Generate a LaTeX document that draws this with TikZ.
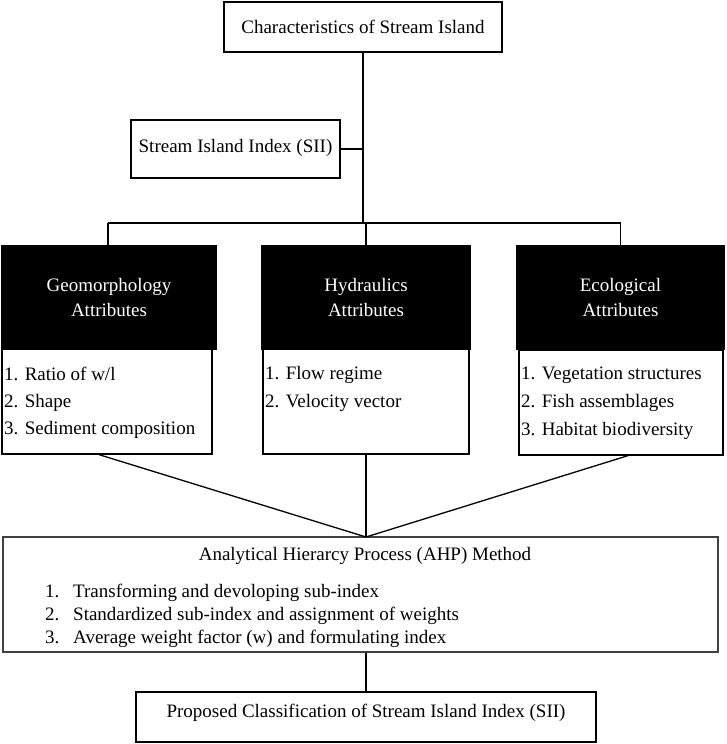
\documentclass[tikz,border=0pt]{standalone}
\usepackage{fontspec}
\setmainfont{Liberation Serif}
\begin{document}
\begin{tikzpicture}[x=1pt,y=-1pt,
  box/.style={draw=black,line width=1.3pt,rectangle,inner sep=0pt,fill=white},
  blackbox/.style={draw=black,line width=1.3pt,rectangle,inner sep=0pt,fill=black,text=white,align=center,font=\fontsize{19}{25.5}\selectfont},
  lbl/.style={inner sep=0pt,font=\fontsize{19}{25}\selectfont},
  conn/.style={line width=1.3pt},
  mainconn/.style={line width=2.3pt}]
\useasboundingbox (0,0) rectangle (726,744);
% boxes
\node[box,minimum width=278pt,minimum height=50pt] (top) at (363,27) {};
\node[lbl] (toptxt) at (363,27) {Characteristics of Stream Island};
\node[box,minimum width=209pt,minimum height=58pt] (sii) at (235.5,149) {};
\node[lbl] (siitxt) at (235.5,148) {Stream Island Index (SII)};

\node[blackbox,minimum width=214pt,minimum height=103pt] (geoT) at (109,297.5) {Geomorphology\\Attributes};
\node[box,minimum width=210pt,minimum height=105pt] (geoB) at (107,401.5) {};
\node[blackbox,minimum width=208pt,minimum height=103pt] (hydT) at (366,297.5) {Hydraulics\\Attributes};
\node[box,minimum width=206pt,minimum height=105pt] (hydB) at (366,401.5) {};
\node[blackbox,minimum width=207pt,minimum height=103pt] (ecoT) at (620.5,297.5) {Ecological\\Attributes};
\node[box,minimum width=204pt,minimum height=105pt] (ecoB) at (621,402.5) {};

\node[lbl,anchor=base west] (g1) at (4,380) {1. Ratio of w/l};
\node[lbl,anchor=base west] (g2) at (4,407) {2. Shape};
\node[lbl,anchor=base west] (g3) at (4,434) {3. Sediment composition};
\node[lbl,anchor=base west] (h1) at (265,379) {1. Flow regime};
\node[lbl,anchor=base west] (h2) at (265,407) {2. Velocity vector};
\node[lbl,anchor=base west] (e1) at (521,379) {1. Vegetation structures};
\node[lbl,anchor=base west] (e2) at (521,407) {2. Fish assemblages};
\node[lbl,anchor=base west] (e3) at (521,435) {3. Habitat biodiversity};

\node[box,draw=black!75,minimum width=715pt,minimum height=115pt] (ahp) at (360.5,594.5) {};
\node[lbl,anchor=base] (ahptxt) at (365,560) {Analytical Hierarcy Process (AHP) Method};
\node[lbl,anchor=base west] (n1) at (45,597) {1.};
\node[lbl,anchor=base west] (a1) at (73,597) {Transforming and devoloping sub-index};
\node[lbl,anchor=base west] (n2) at (45,620) {2.};
\node[lbl,anchor=base west] (a2) at (73,620) {Standardized sub-index and assignment of weights};
\node[lbl,anchor=base west] (n3) at (45,643) {3.};
\node[lbl,anchor=base west] (a3) at (73,643) {Average weight factor (w) and formulating index};

\node[box,minimum width=460pt,minimum height=50pt] (prop) at (366,717) {};
\node[lbl,anchor=base] (proptxt) at (366,717) {Proposed Classification of Stream Island Index (SII)};

% connectors
\coordinate (j) at (363,223);
\coordinate (a) at (366,537);
\draw[mainconn] (top.south) -- (j);
\draw[conn] (sii.east) -- (sii.east -| top.south);
\draw[conn] ([xshift=-1pt]j -| geoT.north) -- (j -| ecoT.north);
\draw[conn] ([xshift=-1pt]j -| geoT.north) -- ([xshift=-1pt]geoT.north);
\draw[conn] (j -| hydT.north) -- (hydT.north);
\draw[conn] (j -| ecoT.north) -- (ecoT.north);
\draw[conn] ([xshift=-8pt]geoB.south) -- (a);
\draw[conn] (hydB.south) -- (a);
\draw[conn] ([xshift=7pt]ecoB.south) -- (a);
\draw[conn] (prop.north |- ahp.south) -- (prop.north);
\end{tikzpicture}
\end{document}
